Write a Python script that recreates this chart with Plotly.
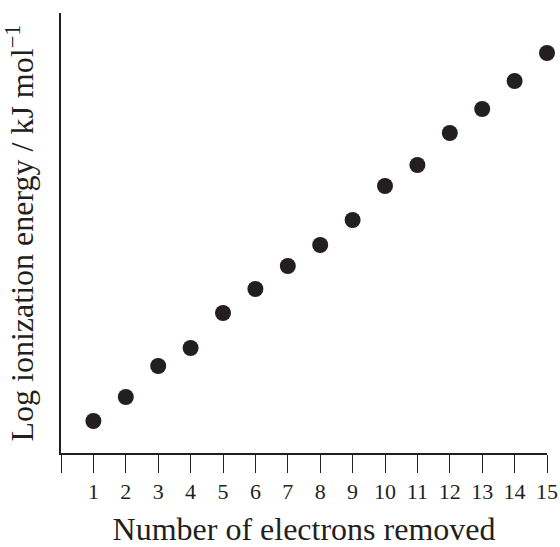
import plotly.graph_objects as go

electrons = list(range(1, 16))
log_ie = [0.32, 0.56, 0.87, 1.05, 1.40, 1.64, 1.87, 2.08, 2.33, 2.67, 2.88, 3.20, 3.44, 3.72, 4.00]
tick_vals = list(range(0, 16))
tick_text = [""] + [str(i) for i in range(1, 16)]

ink = "#231f20"
font_family = "Liberation Serif, Times New Roman, serif"

fig = go.Figure(
    go.Scatter(
        x=electrons,
        y=log_ie,
        mode="markers",
        marker=dict(size=16, color=ink),
        cliponaxis=False,
        showlegend=False,
    )
)

fig.update_layout(
    width=560,
    height=547,
    margin=dict(l=61, r=13, t=13, b=94),
    paper_bgcolor="white",
    plot_bgcolor="white",
    font=dict(family=font_family, color=ink),
    xaxis=dict(
        range=[0, 15],
        tickvals=tick_vals,
        ticktext=tick_text,
        ticks="outside",
        ticklen=18,
        tickwidth=1.2,
        tickcolor=ink,
        showline=True,
        linecolor=ink,
        linewidth=1.5,
        showgrid=False,
        zeroline=False,
        automargin=False,
        tickfont=dict(size=22, family=font_family, color=ink),
        title=dict(text="Number of electrons removed", font=dict(size=32, family=font_family, color=ink), standoff=22),
    ),
    yaxis=dict(
        range=[0, 4.4],
        showline=True,
        linecolor=ink,
        linewidth=1.5,
        showgrid=False,
        zeroline=False,
        automargin=False,
        showticklabels=False,
        ticks="",
        title=dict(text="Log ionization energy / kJ mol<sup>−1</sup>", font=dict(size=32, family=font_family, color=ink), standoff=16),
    ),
)

fig.write_html("out.html")
